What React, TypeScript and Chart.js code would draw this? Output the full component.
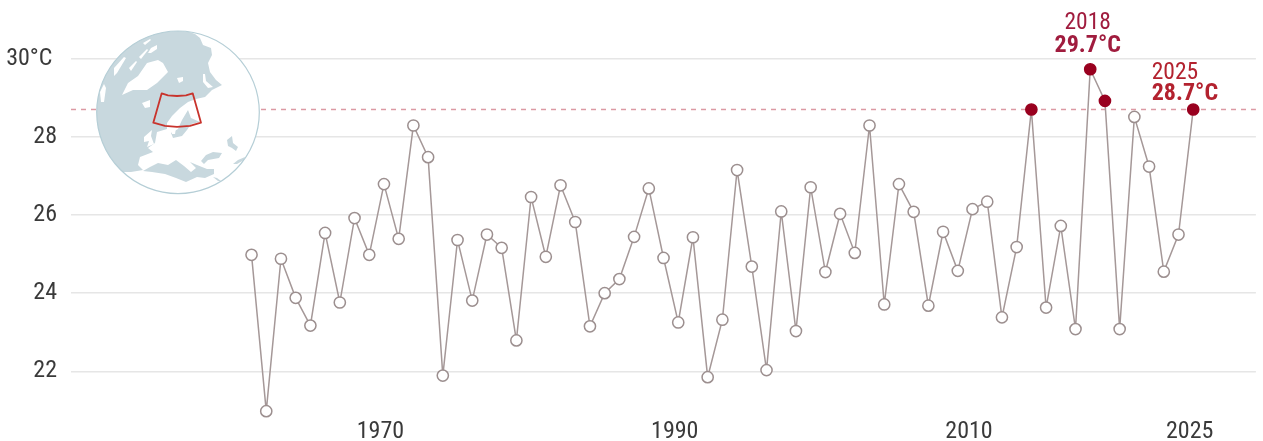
import React, { useEffect, useRef } from "react";
import { Chart, registerables } from "chart.js";

Chart.register(...registerables);

const years = Array.from({ length: 65 }, (_, i) => 1961 + i);
const temps = [
  24.98, 20.98, 24.88, 23.88, 23.17, 25.54, 23.76, 25.92, 24.98, 26.79,
  25.39, 28.29, 27.48, 21.89, 25.36, 23.81, 25.5, 25.16, 22.79, 26.46,
  24.93, 26.76, 25.82, 23.15, 24.0, 24.36, 25.44, 26.68, 24.9, 23.25,
  25.43, 21.85, 23.32, 27.15, 24.68, 22.03, 26.09, 23.03, 26.71, 24.54,
  26.03, 25.03, 28.29, 23.71, 26.79, 26.08, 23.68, 25.57, 24.57, 26.15,
  26.34, 23.38, 25.18, 28.7, 23.63, 25.72, 23.08, 29.73, 28.92, 23.08,
  28.51, 27.24, 24.55, 25.5, 28.7,
];
const highlightYears = [2014, 2018, 2019, 2025];
const referenceValue = 28.7;
const xTicks = [1970, 1990, 2010, 2025];
const yTicks = [22, 24, 26, 28, 30];

const FONT = '"Roboto Condensed", "Liberation Sans Narrow", Roboto, sans-serif';

type P = [number, number][];
const oceanMain: P = [
  [178, 28], [195, 34], [200, 38], [203, 45], [211, 48], [212, 55], [208, 63], [210, 72], [216, 80], [222, 85],
  [212, 90], [205, 97], [196, 99], [188, 102], [180, 108], [172, 116], [167, 123], [167, 129],
  [157, 132], [155, 143], [148, 148], [153, 152], [140, 157], [138, 165], [143, 170], [131, 172], [118, 172], [100, 180], [80, 100], [110, 30],
];
const oceanBaltic: P = [[188, 110], [191, 118], [200, 122], [191, 124], [187, 130], [182, 136], [173, 138], [171, 133], [178, 129], [182, 120]];
const oceanMed: P = [
  [143, 171], [150, 167], [158, 163], [168, 165], [176, 160], [184, 166], [191, 172], [196, 168], [190, 162], [197, 165],
  [207, 169], [214, 169], [214, 174], [205, 178], [197, 177], [186, 182], [176, 178], [165, 174], [152, 172],
];
const oceanBlack: P = [[201, 161], [206, 155], [213, 152], [222, 153], [219, 158], [208, 160], [204, 164]];
const oceanCaspian: P = [[227, 140], [232, 136], [233, 143], [238, 147], [236, 151], [232, 148], [228, 146]];
const oceanPersian: P = [[233, 164], [238, 160], [245, 157], [244, 160], [237, 164]];
const oceanRed: P = [[213, 177], [217, 178], [221, 181], [218, 181]];
const landGreenland: P = [[122, 95], [128, 83], [138, 76], [147, 63], [158, 60], [163, 63], [168, 72], [157, 83], [147, 90], [133, 90]];
const landIceland: P = [[142, 103], [150, 100], [150, 107], [145, 108]];
const landSvalbard: P = [[177, 78], [183, 77], [183, 81], [179, 83]];
const landNovaya: P = [[203, 74], [205, 74], [206, 81], [213, 87], [208, 88], [203, 82]];
const landArctic1: P = [[129, 68], [136, 61], [137, 62], [131, 71]];
const landArctic2: P = [[139, 57], [147, 49], [148, 50], [141, 59]];
const landArctic3: P = [[151, 48], [157, 45], [157, 49], [151, 53], [148, 53]];
const landArctic4: P = [[143, 43], [150, 39], [151, 40], [145, 45]];
const landCanadaA: P = [[101, 102], [100, 92], [104, 84], [106, 88], [104, 102]];
const landCanadaB: P = [[114, 68], [124, 57], [126, 58], [117, 73], [114, 76]];
const landUK: P = [[144, 137], [152, 130], [151, 136], [154, 144], [147, 147], [149, 141], [144, 142]];
const landDenmark: P = [[172, 129], [176, 128], [175, 134], [172, 134]];
const box: P = [[161.7, 93.3], [168, 95.3], [177, 96], [186, 95.3], [192.7, 93.3], [201, 122.7], [190, 125.8], [177, 126.8], [165, 125.8], [153.3, 122.7]];

function path(ctx: CanvasRenderingContext2D, p: P) {
  ctx.beginPath();
  p.forEach(([x, y], i) => (i ? ctx.lineTo(x, y) : ctx.moveTo(x, y)));
  ctx.closePath();
}

const annotations = [
  { year: 2018, lines: ["2018", "29.7°C"], color: "#a01c3e", align: "center", dx: -2.5, y: [23, 45.5] },
  { year: 2025, lines: ["2025", "28.7°C"], color: "#b3222f", align: "left", dx: -41.5, y: [73, 93.5] },
];

const overlay = {
  id: "overlay",
  afterDatasetsDraw(chart: any) {
    const ctx: CanvasRenderingContext2D = chart.ctx;
    const cx = 178, cy = 112.3, r = 81.3;
    ctx.save();
    ctx.beginPath();
    ctx.arc(cx, cy, r, 0, Math.PI * 2);
    ctx.fillStyle = "#fff";
    ctx.fill();
    ctx.clip();
    ctx.fillStyle = "#c8d8de";
    [oceanMain, oceanBaltic, oceanMed, oceanBlack, oceanCaspian, oceanPersian, oceanRed].forEach((p) => { path(ctx, p); ctx.fill(); });
    ctx.fillStyle = "#fff";
    [landGreenland, landIceland, landSvalbard, landNovaya, landArctic1, landArctic2, landArctic3, landArctic4, landCanadaA, landCanadaB, landUK, landDenmark].forEach((p) => { path(ctx, p); ctx.fill(); });
    ctx.restore();
    ctx.save();
    ctx.beginPath();
    ctx.arc(cx, cy, r, 0, Math.PI * 2);
    ctx.strokeStyle = "#b5ced6";
    ctx.lineWidth = 1.2;
    ctx.stroke();
    path(ctx, box);
    ctx.strokeStyle = "#c8332c";
    ctx.lineWidth = 1.8;
    ctx.lineJoin = "round";
    ctx.stroke();
    ctx.textBaseline = "middle";
    annotations.forEach((a) => {
      const x = chart.scales.x.getPixelForValue(a.year) + a.dx;
      ctx.fillStyle = a.color;
      ctx.textAlign = a.align as CanvasTextAlign;
      ctx.font = `400 23.5px ${FONT}`;
      ctx.fillText(a.lines[0], x, a.y[0]);
      ctx.font = `700 24px ${FONT}`;
      ctx.fillText(a.lines[1], x, a.y[1]);
    });
    ctx.restore();
  },
};

export default function App() {
  const ref = useRef<HTMLCanvasElement>(null);
  useEffect(() => {
    const chart = new Chart(ref.current!, {
      type: "line",
      data: {
        datasets: [
          {
            data: years.map((x, i) => ({ x, y: temps[i] })),
            borderColor: "#a59898",
            borderWidth: 1.5,
            pointRadius: 5.6,
            pointBorderWidth: 1.5,
            pointBorderColor: (c: any) => (highlightYears.includes(years[c.dataIndex]) ? "#99001f" : "#9c8f8f"),
            pointBackgroundColor: (c: any) => (highlightYears.includes(years[c.dataIndex]) ? "#99001f" : "#fff"),
            order: 1,
            clip: false,
          },
          {
            data: [{ x: 1948.73, y: referenceValue }, { x: 2029.26, y: referenceValue }],
            borderColor: "#dc9aa4",
            borderWidth: 1.5,
            borderDash: [5, 5],
            pointRadius: 0,
            order: 2,
          },
        ],
      } as any,
      plugins: [overlay],
      options: {
        responsive: false,
        animation: false,
        layout: { padding: { left: 0, right: 7, top: 0, bottom: 0 } },
        plugins: { legend: { display: false }, tooltip: { enabled: false } },
        scales: {
          x: {
            type: "linear",
            min: 1948.73,
            max: 2029.26,
            grid: { display: false },
            border: { display: false },
            afterBuildTicks: (s: any) => { s.ticks = xTicks.map((value) => ({ value })); },
            afterFit: (s: any) => { s.height = 25; s.paddingLeft = 0; s.paddingRight = 0; },
            ticks: {
              autoSkip: false, maxRotation: 0, padding: -6, labelOffset: -3.5,
              color: "#3a3a3a",
              font: { family: FONT, size: 24, weight: 400 },
              callback: (v: any) => String(v),
            },
          },
          y: {
            min: 20.856,
            max: 31.32,
            grid: { color: "#e6e6e6", lineWidth: 1.5, drawTicks: false },
            border: { display: false },
            afterBuildTicks: (s: any) => { s.ticks = yTicks.map((value) => ({ value })); },
            afterFit: (s: any) => { s.width = 71; s.paddingTop = 0; s.paddingBottom = 0; },
            ticks: {
              padding: 14,
              color: "#3a3a3a",
              font: { family: FONT, size: 24, weight: 400 },
              callback: (v: any) => (v === 30 ? "30°C\u2009" : String(v)),
            },
          },
        },
      },
    } as any);
    return () => chart.destroy();
  }, []);
  return (
    <div style={{ position: "absolute", left: 0, top: 0, width: 1263, height: 441, background: "#fff" }}>
      <canvas ref={ref} width={1263} height={441} style={{ display: "block" }} />
    </div>
  );
}
